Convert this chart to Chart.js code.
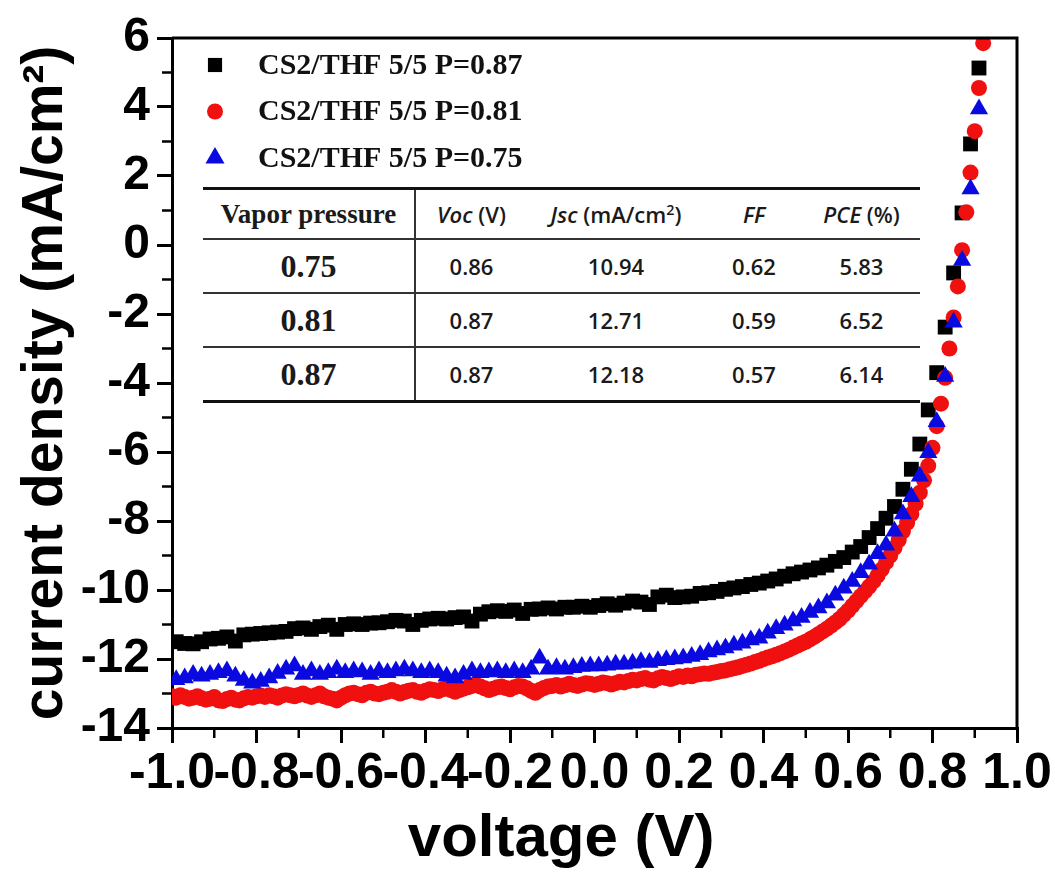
<!DOCTYPE html>
<html>
<head>
<meta charset="utf-8">
<title>J-V curves, CS2/THF 5/5</title>
<script src="https://cdn.jsdelivr.net/npm/chart.js@4.4.1/dist/chart.umd.min.js"></script>
<style>
  body { margin: 0; background: #fff; }
  #wrap { position: relative; width: 1055px; height: 877px; }
  #params {
    position: absolute; left: 203px; top: 187px; width: 717px;
    border-collapse: collapse; table-layout: fixed; background: #fff;
  }
  #params th, #params td { padding: 0; text-align: center; color: #1a1a1a; }
  #params thead th {
    height: 48px; border-top: 3px solid #111; border-bottom: 2px solid #333;
    font-family: "Open Sans", sans-serif; font-size: 22px; font-weight: 600;
  }
  #params thead th.vp { font-family: "Liberation Serif", serif; font-size: 27px; font-weight: bold; }
  #params tbody td {
    height: 52px; border-bottom: 2px solid #333;
    font-family: "Open Sans", sans-serif; font-size: 22px; font-weight: 600;
  }
  #params tbody tr:last-child td { border-bottom: 3px solid #111; }
  #params td.vp { font-family: "Liberation Serif", serif; font-size: 32px; font-weight: bold; }
  #params .vp { border-right: 2px solid #333; }
  #params sup { font-size: 0.65em; line-height: 0; }
</style>
</head>
<body>
<div id="wrap">
  <canvas id="jv"></canvas>
  <table id="params">
    <colgroup><col style="width:212px"><col style="width:112px"><col style="width:178px"><col style="width:98px"><col style="width:117px"></colgroup>
    <thead>
      <tr><th class="vp">Vapor pressure</th><th><i>Voc</i> (V)</th><th><i>Jsc</i> (mA/cm<sup>2</sup>)</th><th><i>FF</i></th><th><i>PCE</i> (%)</th></tr>
    </thead>
    <tbody id="paramRows"></tbody>
  </table>
</div>
<script>
// J-V sweep, 0.02 V steps for P=0.87 and P=0.75
const voltageOdd = [
  -0.99, -0.97, -0.95, -0.93, -0.91, -0.89, -0.87, -0.85, -0.83, -0.81,
  -0.79, -0.77, -0.75, -0.73, -0.71, -0.69, -0.67, -0.65, -0.63, -0.61,
  -0.59, -0.57, -0.55, -0.53, -0.51, -0.49, -0.47, -0.45, -0.43, -0.41,
  -0.39, -0.37, -0.35, -0.33, -0.31, -0.29, -0.27, -0.25, -0.23, -0.21,
  -0.19, -0.17, -0.15, -0.13, -0.11, -0.09, -0.07, -0.05, -0.03, -0.01,
  0.01, 0.03, 0.05, 0.07, 0.09, 0.11, 0.13, 0.15, 0.17, 0.19,
  0.21, 0.23, 0.25, 0.27, 0.29, 0.31, 0.33, 0.35, 0.37, 0.39,
  0.41, 0.43, 0.45, 0.47, 0.49, 0.51, 0.53, 0.55, 0.57, 0.59,
  0.61, 0.63, 0.65, 0.67, 0.69, 0.71, 0.73, 0.75, 0.77, 0.79,
  0.81, 0.83, 0.85, 0.87, 0.89, 0.91
];
const currentP087 = [
  -11.5, -11.55, -11.56, -11.5, -11.42, -11.4, -11.36, -11.48, -11.3, -11.28,
  -11.26, -11.24, -11.22, -11.2, -11.12, -11.1, -11.14, -11.06, -11.02, -11.14,
  -11.0, -10.98, -11.0, -10.96, -10.95, -10.92, -10.88, -10.9, -11.0, -10.88,
  -10.84, -10.82, -10.84, -10.8, -10.78, -10.9, -10.7, -10.63, -10.6, -10.62,
  -10.58, -10.68, -10.56, -10.55, -10.52, -10.55, -10.5, -10.5, -10.47, -10.5,
  -10.45, -10.4, -10.44, -10.38, -10.32, -10.35, -10.42, -10.2, -10.15, -10.22,
  -10.2, -10.18, -10.1, -10.08, -10.04, -9.98, -9.94, -9.9, -9.84, -9.8,
  -9.74, -9.68, -9.6, -9.53, -9.48, -9.42, -9.36, -9.28, -9.17, -9.06,
  -8.9, -8.74, -8.48, -8.22, -7.92, -7.58, -7.08, -6.5, -5.77, -4.78,
  -3.7, -2.38, -0.81, 0.93, 2.93, 5.13
];
const currentP075 = [
  -12.6, -12.55, -12.45, -12.5, -12.45, -12.4, -12.35, -12.5, -12.62, -12.7,
  -12.65, -12.55, -12.42, -12.3, -12.2, -12.45, -12.35, -12.45, -12.4, -12.3,
  -12.4, -12.35, -12.38, -12.45, -12.35, -12.4, -12.35, -12.3, -12.35, -12.4,
  -12.35, -12.4, -12.5, -12.55, -12.45, -12.35, -12.4, -12.38, -12.35, -12.4,
  -12.35, -12.4, -12.3, -11.98, -12.3, -12.25, -12.3, -12.25, -12.22, -12.2,
  -12.2, -12.18, -12.15, -12.15, -12.12, -12.08, -12.1, -12.05, -12.02, -12.0,
  -11.97, -11.93, -11.88, -11.8, -11.74, -11.68, -11.6, -11.54, -11.45, -11.4,
  -11.25, -11.12, -11.02, -10.9, -10.8, -10.65, -10.52, -10.38, -10.15, -9.95,
  -9.75, -9.5, -9.25, -8.95, -8.7, -8.3, -7.8, -7.3, -6.7, -6.02,
  -5.12, -3.81, -2.24, -0.45, 1.62, 3.94
];
// P=0.81 was swept in 0.01 V steps
const voltageRed = [
  -1.00, -0.99, -0.98, -0.97, -0.96, -0.95, -0.94, -0.93, -0.92, -0.91,
  -0.90, -0.89, -0.88, -0.87, -0.86, -0.85, -0.84, -0.83, -0.82, -0.81,
  -0.80, -0.79, -0.78, -0.77, -0.76, -0.75, -0.74, -0.73, -0.72, -0.71,
  -0.70, -0.69, -0.68, -0.67, -0.66, -0.65, -0.64, -0.63, -0.62, -0.61,
  -0.60, -0.59, -0.58, -0.57, -0.56, -0.55, -0.54, -0.53, -0.52, -0.51,
  -0.50, -0.49, -0.48, -0.47, -0.46, -0.45, -0.44, -0.43, -0.42, -0.41,
  -0.40, -0.39, -0.38, -0.37, -0.36, -0.35, -0.34, -0.33, -0.32, -0.31,
  -0.30, -0.29, -0.28, -0.27, -0.26, -0.25, -0.24, -0.23, -0.22, -0.21,
  -0.20, -0.19, -0.18, -0.17, -0.16, -0.15, -0.14, -0.13, -0.12, -0.11,
  -0.10, -0.09, -0.08, -0.07, -0.06, -0.05, -0.04, -0.03, -0.02, -0.01,
  0.00, 0.01, 0.02, 0.03, 0.04, 0.05, 0.06, 0.07, 0.08, 0.09,
  0.10, 0.11, 0.12, 0.13, 0.14, 0.15, 0.16, 0.17, 0.18, 0.19,
  0.20, 0.21, 0.22, 0.23, 0.24, 0.25, 0.26, 0.27, 0.28, 0.29,
  0.30, 0.31, 0.32, 0.33, 0.34, 0.35, 0.36, 0.37, 0.38, 0.39,
  0.40, 0.41, 0.42, 0.43, 0.44, 0.45, 0.46, 0.47, 0.48, 0.49,
  0.50, 0.51, 0.52, 0.53, 0.54, 0.55, 0.56, 0.57, 0.58, 0.59,
  0.60, 0.61, 0.62, 0.63, 0.64, 0.65, 0.66, 0.67, 0.68, 0.69,
  0.70, 0.71, 0.72, 0.73, 0.74, 0.75, 0.76, 0.77, 0.78, 0.79,
  0.80, 0.81, 0.82, 0.83, 0.84, 0.85, 0.86, 0.87, 0.88, 0.89,
  0.90, 0.91, 0.92
];
const currentP081 = [
  -13.08, -13.12, -13.05, -13.1, -13.15, -13.12, -13.08, -13.14, -13.18, -13.15,
  -13.1, -13.2, -13.22, -13.16, -13.12, -13.18, -13.2, -13.14, -13.1, -13.12,
  -13.08, -13.06, -13.1, -13.05, -13.08, -13.12, -13.06, -13.02, -13.05, -13.08,
  -13.04, -13.0, -13.06, -13.1, -13.05, -13.0, -13.08, -13.12, -13.15, -13.2,
  -13.12, -13.05, -13.0, -12.98, -13.02, -13.05, -12.98, -12.95, -13.0, -13.02,
  -12.98, -12.95, -12.9, -12.95, -13.0, -12.96, -12.92, -12.9, -12.95, -12.98,
  -12.92, -12.88, -12.9, -12.93, -12.88, -12.85, -12.9, -12.95, -12.9, -12.86,
  -12.82, -12.78, -12.75, -12.8, -12.85, -12.9, -12.86, -12.82, -12.8, -12.84,
  -12.88, -12.82, -12.78, -12.8, -12.85, -12.92, -12.98, -12.9, -12.84, -12.8,
  -12.78, -12.75, -12.8, -12.76, -12.72, -12.75, -12.78, -12.74, -12.7, -12.72,
  -12.75, -12.72, -12.68, -12.7, -12.74, -12.7, -12.66, -12.68, -12.64, -12.6,
  -12.62, -12.58, -12.55, -12.6, -12.62, -12.56, -12.52, -12.55, -12.58, -12.54,
  -12.5, -12.52, -12.48, -12.5, -12.46, -12.44, -12.42, -12.43, -12.4, -12.38,
  -12.35, -12.33, -12.3, -12.27, -12.24, -12.2, -12.17, -12.13, -12.09, -12.05,
  -12.0, -11.96, -11.92, -11.88, -11.83, -11.78, -11.73, -11.67, -11.61, -11.55,
  -11.5, -11.43, -11.36, -11.28, -11.2, -11.12, -11.03, -10.94, -10.84, -10.72,
  -10.6, -10.46, -10.32, -10.18, -10.04, -9.9, -9.75, -9.58, -9.4, -9.2,
  -9.0, -8.78, -8.55, -8.3, -8.05, -7.8, -7.5, -7.18, -6.82, -6.4,
  -5.88, -5.25, -4.6, -3.85, -3.0, -2.1, -1.2, -0.15, 0.95, 2.1,
  3.3, 4.55, 5.85
];

const seriesLabels = ['CS2/THF 5/5 P=0.87', 'CS2/THF 5/5 P=0.81', 'CS2/THF 5/5 P=0.75'];
const xTicks = [-1.0, -0.8, -0.6, -0.4, -0.2, 0.0, 0.2, 0.4, 0.6, 0.8, 1.0];
const xTickLabels = ['-1.0', '-0.8', '-0.6', '-0.4', '-0.2', '0.0', '0.2', '0.4', '0.6', '0.8', '1.0'];
const yTicks = [-14, -12, -10, -8, -6, -4, -2, 0, 2, 4, 6];
const yTickLabels = ['-14', '-12', '-10', '-8', '-6', '-4', '-2', '0', '2', '4', '6'];

// inset table values
const pressures = ['0.75', '0.81', '0.87'];
const vocValues = ['0.86', '0.87', '0.87'];
const jscValues = ['10.94', '12.71', '12.18'];
const ffValues = ['0.62', '0.59', '0.57'];
const pceValues = ['5.83', '6.52', '6.14'];

const tbody = document.getElementById('paramRows');
pressures.forEach((p, i) => {
  const tr = document.createElement('tr');
  [p, vocValues[i], jscValues[i], ffValues[i], pceValues[i]].forEach((txt, j) => {
    const td = document.createElement('td');
    if (j === 0) td.className = 'vp';
    td.textContent = txt;
    tr.appendChild(td);
  });
  tbody.appendChild(tr);
});

function toPoints(xs, ys) {
  return xs.map((v, i) => ({ x: v, y: ys[i] }));
}

const sansBold = 'Liberation Sans, Arial, sans-serif';

// legend inside the plot area, top left
const insetLegend = {
  id: 'insetLegend',
  afterDraw(chart) {
    const ctx = chart.ctx;
    const a = chart.chartArea;
    ctx.save();
    ctx.textBaseline = 'middle';
    ctx.font = 'bold 30px "Liberation Serif", "Times New Roman", serif';
    chart.data.datasets.forEach((ds, i) => {
      const y = a.top + 27 + i * 46.5;
      ctx.fillStyle = ds.pointBackgroundColor;
      Chart.helpers.drawPoint(ctx, {
        pointStyle: ds.pointStyle, radius: ds.legendRadius, rotation: 0, borderWidth: 0
      }, a.left + 43, y);
      ctx.fillStyle = '#111';
      ctx.fillText(ds.label, a.left + 86, y + 1);
    });
    ctx.restore();
  }
};

// minor ticks and the top/right frame
const axisExtras = {
  id: 'axisExtras',
  afterDraw(chart) {
    const { ctx, chartArea: a, scales } = chart;
    ctx.save();
    ctx.strokeStyle = '#000';
    ctx.lineWidth = 2.5;
    ctx.beginPath();
    for (let i = 0; i < xTicks.length - 1; i++) {
      const px = scales.x.getPixelForValue((xTicks[i] + xTicks[i + 1]) / 2);
      ctx.moveTo(px, a.bottom);
      ctx.lineTo(px, a.bottom + 10);
    }
    for (let i = 0; i < yTicks.length - 1; i++) {
      const py = scales.y.getPixelForValue((yTicks[i] + yTicks[i + 1]) / 2);
      ctx.moveTo(a.left, py);
      ctx.lineTo(a.left - 10, py);
    }
    ctx.stroke();
    ctx.lineWidth = 3;
    ctx.beginPath();
    ctx.moveTo(a.left, a.top);
    ctx.lineTo(a.right, a.top);
    ctx.lineTo(a.right, a.bottom);
    ctx.stroke();
    ctx.restore();
  }
};

const ctx = document.getElementById('jv').getContext('2d');
const jvChart = new Chart(ctx, {
  type: 'scatter',
  data: {
    datasets: [
      {
        label: seriesLabels[0], data: toPoints(voltageOdd, currentP087),
        pointStyle: 'rect', pointRadius: 10.5, legendRadius: 10, pointBackgroundColor: '#000000',
        pointBorderWidth: 0, order: 3
      },
      {
        label: seriesLabels[1], data: toPoints(voltageRed, currentP081),
        pointStyle: 'circle', pointRadius: 8, legendRadius: 8, pointBackgroundColor: '#f01010',
        pointBorderWidth: 0, order: 2
      },
      {
        label: seriesLabels[2], data: toPoints(voltageOdd, currentP075),
        pointStyle: 'triangle', pointRadius: 10.5, legendRadius: 11, pointBackgroundColor: '#0a0ae0',
        pointBorderWidth: 0, order: 1
      }
    ]
  },
  options: {
    responsive: true,
    maintainAspectRatio: false,
    animation: false,
    layout: { padding: { top: 38, right: 38, left: 0, bottom: 0 } },
    plugins: {
      legend: { display: false },
      tooltip: { enabled: false }
    },
    scales: {
      x: {
        type: 'linear', min: -1, max: 1,
        afterBuildTicks(s) { s.ticks = xTicks.map(v => ({ value: v })); },
        afterFit(s) { s.height = 149; s.paddingRight = 0; s.paddingLeft = 0; },
        ticks: {
          autoSkip: false, maxRotation: 0, minRotation: 0, padding: 1, color: '#000',
          font: { family: sansBold, size: 50, weight: 'bold' },
          callback: (v, i) => xTickLabels[i]
        },
        grid: { drawOnChartArea: false, drawTicks: true, tickLength: 15, color: '#000', lineWidth: 3 },
        border: { display: true, color: '#000', width: 3 },
        title: {
          display: true, text: 'voltage (V)\u00a0\u00a0\u00a0\u00a0', color: '#000',
          font: { family: sansBold, size: 60, weight: 'bold' },
          padding: { top: 0, bottom: 2 }
        }
      },
      y: {
        type: 'linear', min: -14, max: 6,
        afterBuildTicks(s) { s.ticks = yTicks.map(v => ({ value: v })); },
        afterFit(s) { s.width = 172; },
        ticks: {
          padding: 7, color: '#000',
          font: { family: sansBold, size: 48, weight: 'bold' },
          callback: (v, i) => yTickLabels[i]
        },
        grid: { drawOnChartArea: false, drawTicks: true, tickLength: 15, color: '#000', lineWidth: 3 },
        border: { display: true, color: '#000', width: 3 },
        title: {
          display: true, text: 'current density (mA/cm\u00b2)', color: '#000',
          font: { family: sansBold, size: 57, weight: 'bold' },
          padding: { top: 12, bottom: 0 }
        }
      }
    }
  },
  plugins: [axisExtras, insetLegend]
});
</script>
</body>
</html>
